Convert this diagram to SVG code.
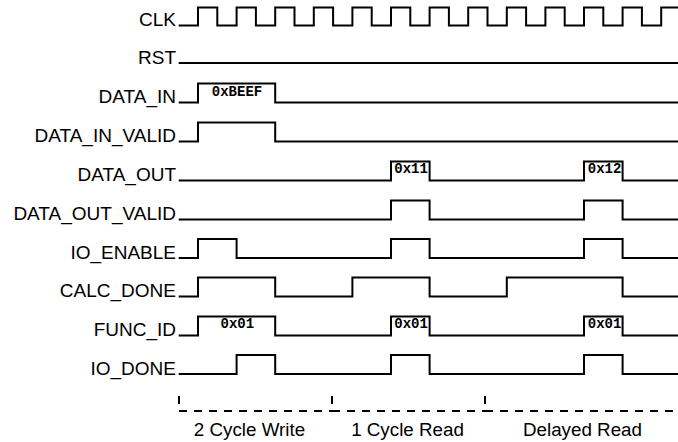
<svg xmlns="http://www.w3.org/2000/svg" width="678" height="442" viewBox="0 0 678 442">
<style>
  .lbl { font-family: "Liberation Sans", Arial, sans-serif; font-size: 19px; fill: #000; text-anchor: end; }
  .sec { font-family: "Liberation Sans", Arial, sans-serif; font-size: 18.8px; fill: #000; text-anchor: middle; }
  .bus { font-family: "Liberation Mono", "Courier New", monospace; font-size: 14px; font-weight: bold; fill: #000; }
  .busc { text-anchor: middle; }
  .wave { fill: none; stroke: #000; stroke-width: 2; stroke-linejoin: miter; }
  .mark { fill: none; stroke: #000; stroke-width: 2; stroke-dasharray: 8 7; }
</style>
<rect width="678" height="442" fill="#fff"/>

<g id="CLK">
  <text class="lbl" x="176" y="26.2">CLK</text>
  <path class="wave" d="M178.7,25.5 H198 V7.5 H217.3 V25.5 H236.6 V7.5 H255.9 V25.5 H275.2 V7.5 H294.5 V25.5 H313.8 V7.5 H333.1 V25.5 H352.4 V7.5 H371.7 V25.5 H391 V7.5 H410.3 V25.5 H429.6 V7.5 H448.9 V25.5 H468.2 V7.5 H487.5 V25.5 H506.8 V7.5 H526.1 V25.5 H545.4 V7.5 H564.7 V25.5 H584 V7.5 H603.3 V25.5 H622.6 V7.5 H641.9 V25.5 H661.2 V7.5 H679"/>
</g>

<g id="RST">
  <text class="lbl" x="176" y="63.7">RST</text>
  <path class="wave" d="M178.7,63 H679"/>
</g>

<g id="DATA_IN">
  <text class="lbl" x="176" y="103.2">DATA_IN</text>
  <path class="wave" d="M178.7,102.5 H198 V83.5 H275.2 V102.5 H679"/>
  <text class="bus busc" x="237" y="95.5">0xBEEF</text>
</g>

<g id="DATA_IN_VALID">
  <text class="lbl" x="176" y="142.2">DATA_IN_VALID</text>
  <path class="wave" d="M178.7,141.5 H198 V122.5 H275.2 V141.5 H679"/>
</g>

<g id="DATA_OUT">
  <text class="lbl" x="176" y="181.3">DATA_OUT</text>
  <path class="wave" d="M178.7,180.5 H391 V161.5 H429.6 V180.5 H584 V161.5 H622.6 V180.5 H679"/>
  <text class="bus" x="394.3" y="172.5">0x11</text>
  <text class="bus" x="587.8" y="172.5">0x12</text>
</g>

<g id="DATA_OUT_VALID">
  <text class="lbl" x="176" y="220.2">DATA_OUT_VALID</text>
  <path class="wave" d="M178.7,219.5 H391 V200.5 H429.6 V219.5 H584 V200.5 H622.6 V219.5 H679"/>
</g>

<g id="IO_ENABLE">
  <text class="lbl" x="176" y="258.7">IO_ENABLE</text>
  <path class="wave" d="M178.7,258 H198 V239 H236.6 V258 H391 V239 H429.6 V258 H584 V239 H622.6 V258 H679"/>
</g>

<g id="CALC_DONE">
  <text class="lbl" x="176" y="297.2">CALC_DONE</text>
  <path class="wave" d="M178.7,296.5 H198 V277.5 H275.2 V296.5 H352.4 V277.5 H429.6 V296.5 H506.8 V277.5 H622.6 V296.5 H679"/>
</g>

<g id="FUNC_ID">
  <text class="lbl" x="176" y="336.2">FUNC_ID</text>
  <path class="wave" d="M178.7,335.5 H198 V316.5 H275.2 V335.5 H391 V316.5 H429.6 V335.5 H584 V316.5 H622.6 V335.5 H679"/>
  <text class="bus busc" x="237.3" y="327.5">0x01</text>
  <text class="bus" x="394.3" y="327.5">0x01</text>
  <text class="bus" x="587.8" y="327.5">0x01</text>
</g>

<g id="IO_DONE">
  <text class="lbl" x="176" y="374.7">IO_DONE</text>
  <path class="wave" d="M178.7,374 H236.6 V355 H275.2 V374 H391 V355 H429.6 V374 H584 V355 H622.6 V374 H679"/>
</g>

<g id="connectors">
  <path class="mark" d="M179,396 V411 H332"/>
  <path class="mark" d="M332,396 V411 H485"/>
  <path class="mark" d="M485,396 V411 H679"/>
</g>

<g id="sections">
  <text class="sec" x="249.5" y="435.5">2 Cycle Write</text>
  <text class="sec" x="407.5" y="435.5">1 Cycle Read</text>
  <text class="sec" x="582.5" y="435.5">Delayed Read</text>
</g>
</svg>
